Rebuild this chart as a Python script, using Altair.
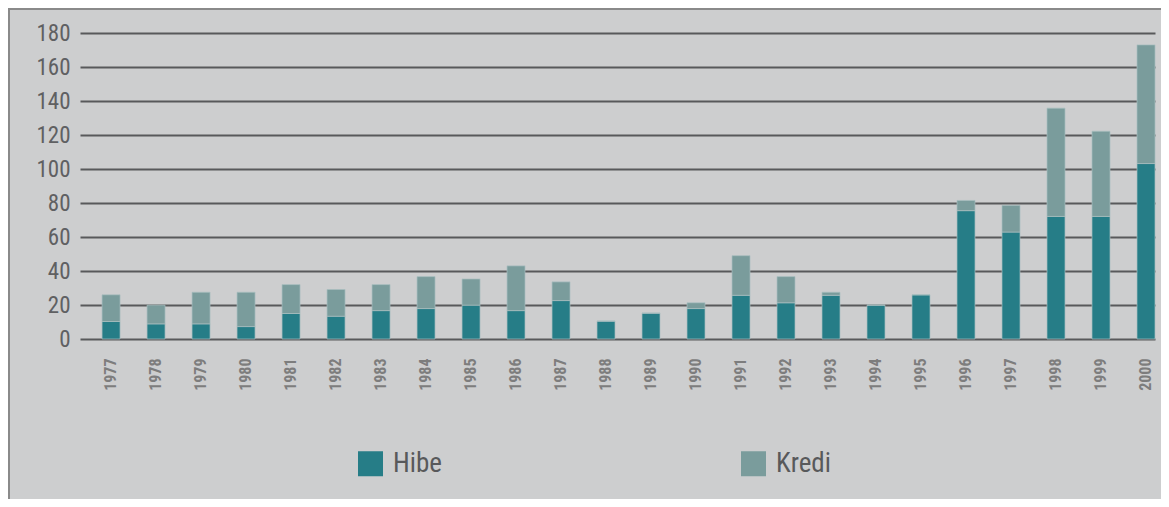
import altair as alt
import pandas as pd

years = [str(y) for y in range(1977, 2001)]
hibe = [10.3, 8.9, 8.9, 7.3, 15.0, 13.4, 16.7, 17.9, 19.9, 16.7, 22.6, 10.5,
        15.2, 17.9, 25.7, 21.3, 25.7, 19.9, 26.0, 75.5, 62.9, 72.1, 72.1, 103.2]
total = [26.0, 19.9, 27.5, 27.5, 32.0, 29.1, 32.0, 36.7, 35.3, 43.0, 33.6, 10.5,
         15.2, 21.3, 49.0, 36.7, 27.5, 19.9, 26.0, 81.5, 78.6, 135.8, 122.2, 173.0]
kredi = [round(t - h, 1) for t, h in zip(total, hibe)]
series = ["Hibe", "Kredi"]
colors = ["#267d87", "#7a9c9c"]

rows = []
for y, h, k in zip(years, hibe, kredi):
    rows.append({"Yıl": y, "Tür": "Hibe", "Değer": h, "ord": 0})
    rows.append({"Yıl": y, "Tür": "Kredi", "Değer": k, "ord": 1})
df = pd.DataFrame(rows)

FONT = "'Roboto Condensed', 'Liberation Sans Narrow', 'DejaVu Sans Condensed', Roboto"
BG = "#cdcecf"
W, H = 1075, 306
PAD = {"left": 72, "top": 25, "right": 6, "bottom": 160}

bars = alt.Chart(df).mark_bar(stroke="#a9bfc0", strokeWidth=1, strokeOpacity=0.7).encode(
    x=alt.X("Yıl:N", title=None,
            scale=alt.Scale(paddingInner=0.6, paddingOuter=0.245, align=1),
            axis=alt.Axis(labelAngle=-90, labelFontSize=16, labelColor="#7d7d7d",
                          labelFont=FONT, labelFontWeight="bold", ticks=False, domain=False,
                          labelPadding=19, grid=False)),
    y=alt.Y("Değer:Q", title=None, stack="zero",
            scale=alt.Scale(domain=[0, 180], nice=False),
            axis=alt.Axis(values=list(range(0, 181, 20)), labelFontSize=23,
                          labelColor="#5f6062", labelFont=FONT, ticks=False, domain=False,
                          labelPadding=10, grid=True, gridColor="#58595b", gridWidth=1.8,
                          gridOpacity=1)),
    color=alt.Color("Tür:N", scale=alt.Scale(domain=series, range=colors),
                    legend=alt.Legend(title=None, orient="none", direction="horizontal",
                                      legendX=277, legendY=417, symbolType="square",
                                      symbolSize=625, symbolStrokeWidth=0, symbolOpacity=1,
                                      labelFontSize=27, labelFont=FONT, labelColor="#58595b",
                                      labelOffset=9, columnPadding=298, padding=0)),
    order=alt.Order("ord:Q", sort="ascending"),
)

# frame lines on the left and top edge of the panel (decoration)
frame_left = alt.Chart(df).mark_rule(color="#8a8a8a", strokeWidth=2).encode(
    x=alt.value(-PAD["left"] + 1), y=alt.value(-PAD["top"]), y2=alt.value(H + PAD["bottom"])
)
frame_top = alt.Chart(df).mark_rule(color="#8a8a8a", strokeWidth=2).encode(
    x=alt.value(-PAD["left"]), x2=alt.value(W + PAD["right"]), y=alt.value(-PAD["top"] + 1)
)

chart = alt.layer(bars, frame_left, frame_top).properties(
    width=W, height=H,
    autosize=alt.AutoSizeParams(type="none"),
    padding=PAD,
    background=BG,
).configure_view(stroke=None).configure_axis(zindex=0)

chart.save("out.html", embed_options={"renderer": "svg", "actions": False})
